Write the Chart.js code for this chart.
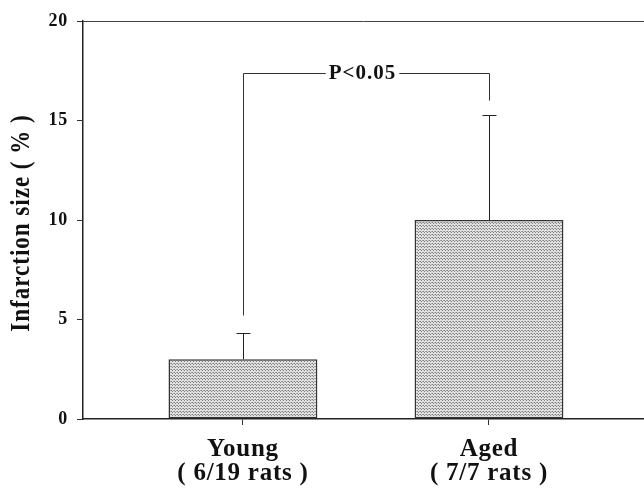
<!DOCTYPE html>
<html lang="en">
<head>
  <meta charset="UTF-8">
  <title>Infarction size</title>
  <script src="https://cdn.jsdelivr.net/npm/chart.js"></script>
  <style>
    body { margin: 0; padding: 0; background: #fff; }
    #wrap { width: 644px; height: 493px; }
  </style>
</head>
<body>
  <div id="wrap"><canvas id="infarctChart" width="644" height="493"></canvas></div>

  <script>
    // data
    const groups = ['Young', 'Aged'];
    const groupNotes = ['( 6/19 rats )', '( 7/7 rats )'];
    const groupPos = [0, 1];
    const meanSize = [3.0, 10.0];
    const errUpper = [1.3, 5.3];
    const yTicks = [0, 5, 10, 15, 20];
    const yTitle = 'Infarction size ( % )';
    const pLabel = 'P<0.05';
    const bracketLevel = 17.4;          // horizontal part of the bracket
    const bracketEnds = [5.2, 16.0];    // where each leg stops

    const ink = '#222';
    const serif = '"Liberation Serif", "Times New Roman", serif';

    // stippled grey fill like the printed bars
    function makeStipple() {
      const c = document.createElement('canvas');
      c.width = 3; c.height = 3;
      const g = c.getContext('2d');
      g.fillStyle = '#e0e0e0';
      g.fillRect(0, 0, 3, 3);
      g.fillStyle = '#808080';
      g.fillRect(0, 0, 1, 1);
      g.fillRect(1, 1, 1, 1);
      g.fillStyle = '#aaaaaa';
      g.fillRect(2, 0, 1, 1);
      return g.createPattern(c, 'repeat');
    }

    // the printed type is a bit wide, so space the letters out a little
    const spacing = {
      id: 'spacing',
      beforeDraw(chart) { chart.ctx.letterSpacing = '0.75px'; },
      afterDraw(chart) { chart.ctx.letterSpacing = '0px'; }
    };

    // error bars, top frame line, y title and the significance bracket
    const extras = {
      id: 'extras',
      afterDatasetsDraw(chart) {
        const ctx = chart.ctx;
        const x = chart.scales.x, y = chart.scales.y;
        const area = chart.chartArea;
        ctx.save();

        // top border of the frame
        ctx.strokeStyle = '#444';
        ctx.lineWidth = 1;
        ctx.beginPath();
        ctx.moveTo(area.left, area.top + 0.5);
        ctx.lineTo(area.right, area.top + 0.5);
        ctx.stroke();

        // error bars (upper only)
        ctx.strokeStyle = ink;
        groupPos.forEach((p, i) => {
          const px = Math.round(x.getPixelForValue(p)) + 0.5;
          const y0 = y.getPixelForValue(meanSize[i]);
          const y1 = Math.round(y.getPixelForValue(meanSize[i] + errUpper[i])) + 0.5;
          ctx.beginPath();
          ctx.moveTo(px, y0);
          ctx.lineTo(px, y1);
          ctx.moveTo(px - 7, y1);
          ctx.lineTo(px + 7, y1);
          ctx.stroke();
        });

        // bracket
        const xl = Math.round(x.getPixelForValue(groupPos[0])) + 0.5;
        const xr = Math.round(x.getPixelForValue(groupPos[1])) + 0.5;
        const yb = Math.round(y.getPixelForValue(bracketLevel)) + 0.5;
        ctx.strokeStyle = '#333';
        ctx.beginPath();
        ctx.moveTo(xl, y.getPixelForValue(bracketEnds[0]));
        ctx.lineTo(xl, yb);
        ctx.lineTo(xr, yb);
        ctx.lineTo(xr, y.getPixelForValue(bracketEnds[1]));
        ctx.stroke();

        ctx.font = 'bold 21px ' + serif;
        ctx.letterSpacing = '1px';
        const mid = (xl + xr) / 2 - 4;
        const tw = ctx.measureText(pLabel).width;
        ctx.fillStyle = '#fff';
        ctx.fillRect(mid - tw / 2 - 3, yb - 11, tw + 6, 22);
        ctx.fillStyle = '#111';
        ctx.textAlign = 'center';
        ctx.textBaseline = 'middle';
        ctx.fillText(pLabel, mid, yb);

        // y axis title, stretched across like the print
        ctx.translate(22, (area.top + area.bottom) / 2 + 3);
        ctx.rotate(-Math.PI / 2);
        ctx.scale(1, 1.22);
        ctx.font = 'bold 23px ' + serif;
        ctx.letterSpacing = '1px';
        ctx.fillText(yTitle, 0, 0);

        ctx.restore();
      }
    };

    const ctx = document.getElementById('infarctChart').getContext('2d');
    const chart = new Chart(ctx, {
      type: 'bar',
      data: {
        datasets: [{
          data: groupPos.map((p, i) => ({ x: p, y: meanSize[i] })),
          backgroundColor: makeStipple(),
          borderColor: '#333',
          borderWidth: 1.5,
          borderSkipped: false,
          barPercentage: 0.605,
          categoryPercentage: 1
        }]
      },
      options: {
        responsive: false,
        animation: false,
        layout: { padding: { top: 21, right: 0, left: 0, bottom: 0 } },
        plugins: {
          legend: { display: false },
          tooltip: { enabled: false }
        },
        scales: {
          x: {
            type: 'linear',
            offset: false,
            min: -0.65,
            max: 1.63,
            afterBuildTicks: (s) => { s.ticks = groupPos.map(v => ({ value: v })); },
            afterFit: (s) => { s.height = 74; },
            grid: { display: true, drawOnChartArea: false, offset: false, tickLength: 6, color: '#333' },
            border: { display: true, color: '#222', width: 1.5 },
            ticks: {
              color: '#111',
              padding: 13,
              maxRotation: 0,
              font: { family: serif, size: 25, weight: 'bold', lineHeight: 0.94 },
              callback: (v) => {
                const i = groupPos.indexOf(v);
                return i >= 0 ? [groups[i], groupNotes[i]] : '';
              }
            }
          },
          y: {
            min: 0,
            max: 20,
            afterBuildTicks: (s) => { s.ticks = yTicks.map(v => ({ value: v })); },
            afterFit: (s) => { s.width = 83; },
            grid: { display: true, drawOnChartArea: false, tickLength: 6, color: '#333' },
            border: { display: true, color: '#222', width: 1.5 },
            ticks: {
              color: '#111',
              padding: 9,
              font: { family: serif, size: 18, weight: 'bold' }
            }
          }
        }
      },
      plugins: [spacing, extras]
    });
  </script>
</body>
</html>
